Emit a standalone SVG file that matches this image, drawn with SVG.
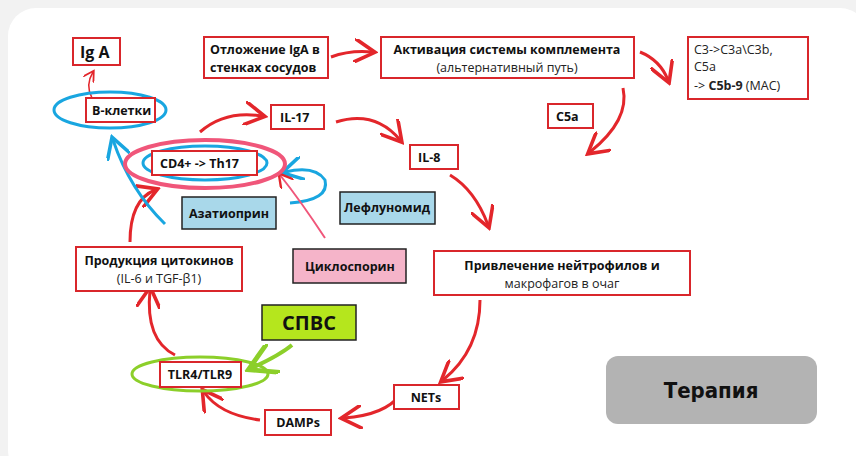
<svg xmlns="http://www.w3.org/2000/svg" width="856" height="456" viewBox="0 0 856 456">
<style>
.b{fill:#fff;stroke:#d9262b;stroke-width:2}
.t{font-family:"Open Sans","Liberation Sans",sans-serif;font-size:12.5px;font-weight:bold;fill:#111}
.n{font-family:"Open Sans","Liberation Sans",sans-serif;font-size:12.5px;fill:#222}
.a{fill:none;stroke:#e3262b;stroke-width:3;marker-end:url(#ar)}
.bl{fill:none;stroke:#19a6e0;stroke-width:3}
</style>
<defs>
<marker id="ar" markerWidth="8" markerHeight="8" refX="6" refY="4" orient="auto" markerUnits="strokeWidth"><path d="M0,0 L7,4 L0,8" fill="none" stroke="#e3262b" stroke-width="1.2"/></marker>
<marker id="ab" markerWidth="8" markerHeight="8" refX="6" refY="4" orient="auto" markerUnits="strokeWidth"><path d="M0,0 L7,4 L0,8" fill="none" stroke="#19a6e0" stroke-width="1.2"/></marker>
<marker id="ag" markerWidth="8" markerHeight="8" refX="6" refY="4" orient="auto" markerUnits="strokeWidth"><path d="M0,0 L7,4 L0,8" fill="none" stroke="#8ccf2a" stroke-width="1.2"/></marker>
</defs>
<rect width="856" height="456" fill="#f2f2f2"/>
<rect x="8" y="8" width="860" height="470" rx="28" fill="#fff"/>
<g id="connectors">
<path class="a" d="M331,57 Q350,50 372,52"/>
<path class="a" d="M640,52 Q660,60 668,80"/>
<path class="a" d="M623,88 Q630,120 590,152"/>
<path class="a" d="M200,132 Q225,110 262,116"/>
<path class="a" d="M336,122 Q375,110 400,140"/>
<path class="a" d="M450,175 Q475,190 488,225"/>
<path class="a" d="M480,300 Q480,350 443,380"/>
<path class="a" d="M400,395 Q385,415 344,418"/>
<path class="a" d="M260,420 Q220,415 204,392"/>
<path class="a" d="M175,355 Q145,340 150,290"/>
<path class="a" d="M130,242 Q130,200 155,190"/>
<path d="M92,98 Q85,85 93,72" fill="none" stroke="#e3262b" stroke-width="1.5" marker-end="url(#ar)"/>
<path class="bl" d="M165,224 Q130,190 113,140" marker-end="url(#ab)"/>
<path class="bl" d="M290,203 Q330,200 325,180 Q315,165 285,172" marker-end="url(#ab)"/>
<path d="M325,238 Q300,200 280,175" fill="none" stroke="#f0567a" stroke-width="2" marker-end="url(#ar)"/>
<path d="M292,345 Q280,355 252,368" fill="none" stroke="#8ccf2a" stroke-width="4" marker-end="url(#ag)"/>
</g>
<g id="iga"><rect class="b" x="73" y="38" width="47" height="27"/><text class="t" x="80" y="58" style="font-size:16px">Ig A</text></g>
<g id="dep"><rect class="b" x="204" y="37" width="124" height="41"/><text class="t" x="210" y="54">Отложение IgA в</text><text class="t" x="210" y="72">стенках сосудов</text></g>
<g id="act"><rect class="b" x="381" y="37" width="253" height="41"/><text class="t" x="507" y="54" text-anchor="middle">Активация системы комплемента</text><text class="n" x="507" y="72" text-anchor="middle">(альтернативный путь)</text></g>
<g id="c3"><rect class="b" x="688" y="37" width="120" height="62"/><text class="n" x="694" y="54">C3-&gt;C3a\C3b,</text><text class="n" x="694" y="71">C5a</text><text class="n" x="694" y="90">-&gt; <tspan font-weight="bold">C5b-9</tspan> (MAC)</text></g>
<g id="c5a"><rect class="b" x="548" y="104" width="45" height="24"/><text class="t" x="556" y="121">C5a</text></g>
<g id="bcell"><ellipse cx="110" cy="110" rx="56" ry="18" class="bl"/><rect class="b" x="86" y="98" width="69" height="24"/><text class="t" x="92" y="115">B-клетки</text></g>
<g id="il17"><rect class="b" x="271" y="105" width="53" height="24"/><text class="t" x="280" y="122">IL-17</text></g>
<g id="il8"><rect class="b" x="410" y="145" width="48" height="24"/><text class="t" x="418" y="162">IL-8</text></g>
<g id="cd4"><ellipse cx="205" cy="164" rx="80" ry="24" fill="none" stroke="#f0567a" stroke-width="4"/><ellipse cx="205" cy="163" rx="62" ry="17" class="bl"/><rect class="b" x="152" y="151" width="105" height="24"/><text class="t" x="160" y="168">CD4+ -&gt; Th17</text></g>
<g id="aza"><rect x="182" y="197" width="94" height="32" fill="#a9d8ea" stroke="#222" stroke-width="1.5"/><text class="t" x="229" y="218" text-anchor="middle">Азатиоприн</text></g>
<g id="lef"><rect x="340" y="192" width="95" height="32" fill="#a9d8ea" stroke="#222" stroke-width="1.5"/><text class="t" x="387" y="212" text-anchor="middle">Лефлуномид</text></g>
<g id="cyc"><rect x="293" y="249" width="113" height="34" fill="#f5b4c9" stroke="#222" stroke-width="1.5"/><text class="t" x="350" y="271" text-anchor="middle">Циклоспорин</text></g>
<g id="neu"><rect class="b" x="434" y="251" width="256" height="44"/><text class="t" x="562" y="270" text-anchor="middle">Привлечение нейтрофилов и</text><text class="n" x="562" y="288" text-anchor="middle">макрофагов в очаг</text></g>
<g id="cyt"><rect class="b" x="76" y="247" width="166" height="44"/><text class="t" x="159" y="265" text-anchor="middle">Продукция цитокинов</text><text class="n" x="159" y="283" text-anchor="middle">(IL-6 и TGF-β1)</text></g>
<g id="spvs"><rect x="262" y="305" width="94" height="35" fill="#b5e61d" stroke="#222" stroke-width="1.5"/><text class="t" x="309" y="330" text-anchor="middle" style="font-size:20px">СПВС</text></g>
<g id="tlr"><ellipse cx="200" cy="374" rx="68" ry="17" fill="none" stroke="#8ccf2a" stroke-width="3"/><rect class="b" x="160" y="362" width="81" height="25"/><text class="t" x="200" y="379" text-anchor="middle">TLR4/TLR9</text></g>
<g id="nets"><rect class="b" x="394" y="385" width="65" height="24"/><text class="t" x="426" y="402" text-anchor="middle">NETs</text></g>
<g id="damps"><rect class="b" x="265" y="410" width="66" height="25"/><text class="t" x="298" y="427" text-anchor="middle">DAMPs</text></g>
<g id="ther"><rect x="606" y="356" width="211" height="68" rx="12" fill="#b3b3b3"/><text x="711" y="398" text-anchor="middle" font-family="'DejaVu Sans Condensed','Liberation Sans Narrow',sans-serif" font-size="22" font-weight="bold" fill="#111">Терапия</text></g>
</svg>
